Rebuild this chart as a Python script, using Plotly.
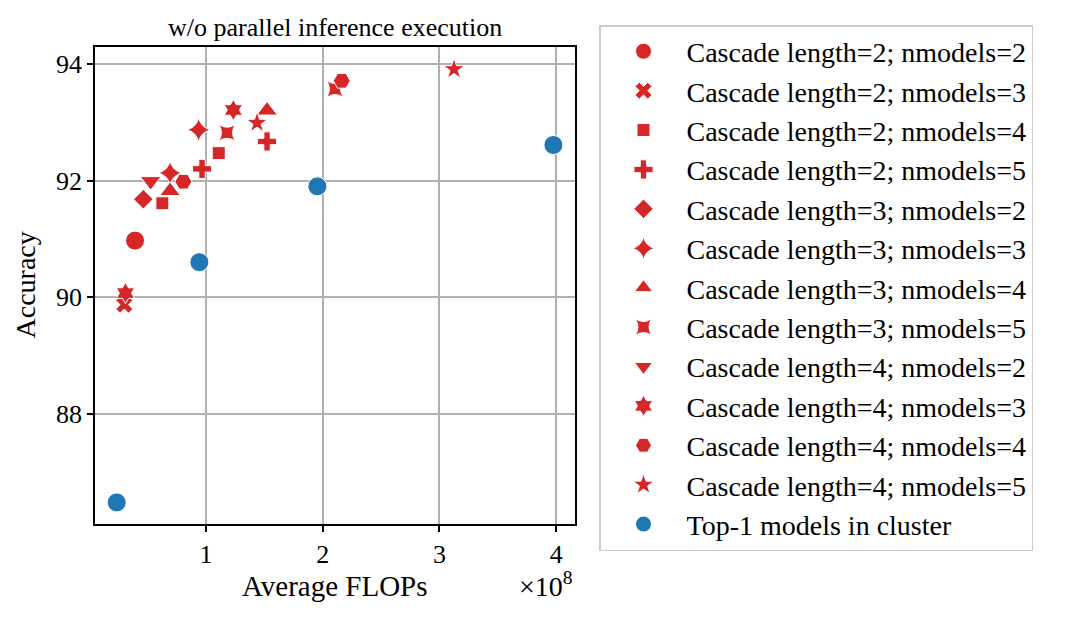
import plotly.graph_objects as go

# ---- data (x in units of 1e8 FLOPs, y = accuracy) ----
labels = [
    "Cascade length=2; nmodels=2",
    "Cascade length=2; nmodels=3",
    "Cascade length=2; nmodels=4",
    "Cascade length=2; nmodels=5",
    "Cascade length=3; nmodels=2",
    "Cascade length=3; nmodels=3",
    "Cascade length=3; nmodels=4",
    "Cascade length=3; nmodels=5",
    "Cascade length=4; nmodels=2",
    "Cascade length=4; nmodels=3",
    "Cascade length=4; nmodels=4",
    "Cascade length=4; nmodels=5",
    "Top-1 models in cluster",
]
x_vals = [
    [0.392],
    [0.30],
    [0.626, 1.109],
    [0.966, 1.523],
    [0.463],
    [0.937, 0.692],
    [0.692, 1.523],
    [1.180, 2.105],
    [0.526],
    [0.310, 1.234],
    [0.806, 2.163],
    [1.437, 3.125],
    [0.235, 0.943, 1.954, 3.976],
]
y_vals = [
    [90.97],
    [89.87],
    [91.61, 92.47],
    [92.20, 92.67],
    [91.68],
    [92.87, 92.13],
    [91.82, 93.20],
    [92.82, 93.57],
    [91.99],
    [90.07, 93.21],
    [91.98, 93.71],
    [92.99, 93.91],
    [86.48, 90.60, 91.90, 92.61],
]
x_ticks = [1, 2, 3, 4]
y_ticks = [88, 90, 92, 94]

symbols = ["circle", "x", "square", "cross", "diamond", "star-diamond",
           "triangle-up", "star-square", "triangle-down", "hexagram",
           "hexagon2", "star", "circle"]
sizes = [19, 15, 13, 16, 15, 17, 18, 15, 18, 16, 17, 16, 19]
RED = "#d62728"
BLUE = "#1f77b4"
colors = [RED] * 12 + [BLUE]

FONT = "Liberation Serif"

fig = go.Figure()
for i, lab in enumerate(labels):
    fig.add_trace(go.Scatter(
        x=x_vals[i], y=y_vals[i], mode="markers", name=lab,
        legendgroup=f"g{i}",
        marker=dict(symbol=symbols[i], size=sizes[i], color=colors[i],
                    line=dict(color="white", width=1)),
    ))

fig.update_layout(
    width=1080, height=617,
    margin=dict(l=87, r=513, t=39, b=101, autoexpand=False),
    paper_bgcolor="white", plot_bgcolor="white",
    font=dict(family=FONT, size=26, color="black"),
    showlegend=True,
    legend=dict(
        x=1.05, y=1.046, xanchor="left", yanchor="top",
        bgcolor="white", bordercolor="#cccccc", borderwidth=1.5,
        font=dict(family=FONT, size=28, color="black"),
        tracegroupgap=0, itemwidth=76, maxheight=600,
    ),
    xaxis=dict(
        range=[0.049, 4.161], tickvals=x_ticks, ticktext=[str(t) for t in x_ticks],
        showgrid=True, gridcolor="#b0b0b0", gridwidth=1.5,
        showline=True, linecolor="black", linewidth=1.5, mirror=True,
        ticks="outside", ticklen=6, tickwidth=1.5, tickcolor="black",
        zeroline=False, tickfont=dict(size=26),
    ),
    yaxis=dict(
        range=[86.11, 94.29], tickvals=y_ticks, ticktext=[str(t) for t in y_ticks],
        showgrid=True, gridcolor="#b0b0b0", gridwidth=1.5,
        showline=True, linecolor="black", linewidth=1.5, mirror=True,
        ticks="outside", ticklen=6, tickwidth=1.5, tickcolor="black",
        zeroline=False, tickfont=dict(size=26),
    ),
    annotations=[
        dict(text="w/o parallel inference execution", xref="paper", yref="paper",
             x=0.5, y=1.0, yshift=20, xanchor="center", yanchor="middle",
             showarrow=False, font=dict(size=26)),
        dict(text="Average FLOPs", xref="paper", yref="paper",
             x=0.5, y=0, yshift=-62, xanchor="center", yanchor="middle",
             showarrow=False, font=dict(size=29)),
        dict(text="×10<sup>8</sup>", xref="paper", yref="paper",
             x=1.0, y=0, yshift=-60, xanchor="right", yanchor="middle",
             showarrow=False, font=dict(size=28)),
        dict(text="Accuracy", xref="paper", yref="paper", textangle=-90,
             x=0, xshift=-70, y=0.5, xanchor="center", yanchor="middle",
             showarrow=False, font=dict(size=28)),
    ],
)

fig.write_html("out.html")
